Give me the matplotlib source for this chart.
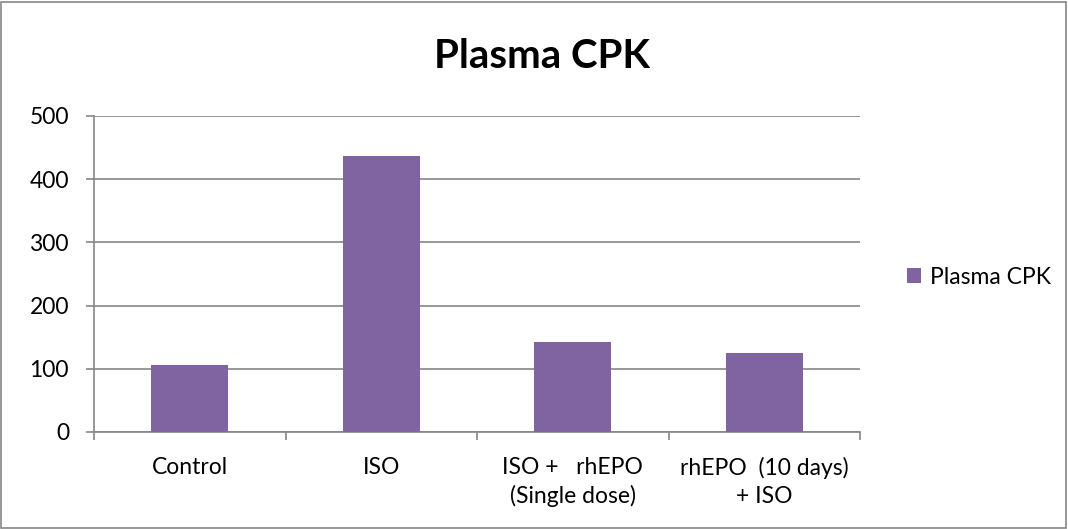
import matplotlib
matplotlib.use("Agg")
import matplotlib.pyplot as plt
from matplotlib.patches import Rectangle
import numpy as np

categories = ["Control", "ISO", "ISO +   rhEPO\n(Single dose)", "rhEPO  (10 days)\n+ ISO"]
cpk_values = [106, 436, 142, 125]
series_name = "Plasma CPK"
y_ticks = [0, 100, 200, 300, 400, 500]

plt.rcParams["font.family"] = ["Lato", "DejaVu Sans"]
bar_color = "#8064A2"
grid_color = "#868686"

fig = plt.figure(figsize=(10.68, 5.29), dpi=100)
ax = fig.add_axes([94 / 1068, 1 - 432 / 529, 766 / 1068, 316 / 529])

x = np.arange(len(categories))
ax.bar(x, cpk_values, width=0.4, color=bar_color, label=series_name, zorder=3)

ax.set_xlim(-0.5, len(categories) - 0.5)
ax.set_ylim(0, 500)
ax.set_yticks(y_ticks)
ax.set_yticklabels([str(v) for v in y_ticks], fontsize=16.5)
ax.yaxis.grid(True, color=grid_color, linewidth=1.2, zorder=0)

# category labels between boundary ticks
ax.set_xticks(np.arange(-0.5, len(categories), 1.0))
ax.set_xticklabels([])
ax.set_xticks(x, minor=True)
ax.set_xticklabels(categories, minor=True, fontsize=16.5, linespacing=1.4)
ax.tick_params(axis="x", which="minor", length=0, pad=18)
ax.tick_params(axis="x", which="major", length=6, color=grid_color, width=1.2)
ax.tick_params(axis="y", length=6, color=grid_color, width=1.2, pad=12)

for side in ["top", "right"]:
    ax.spines[side].set_visible(False)
for side in ["left", "bottom"]:
    ax.spines[side].set_color(grid_color)
    ax.spines[side].set_linewidth(1.2)

fig.text(542 / 1068, 1 - 56 / 529, "Plasma CPK", fontsize=29, fontweight="bold",
         ha="center", va="center")

ax.legend(loc="center left", bbox_to_anchor=(1.035, 0.49), frameon=False,
          fontsize=16.5, handlelength=0.6, handleheight=0.6, handletextpad=0.4)

fig.patches.append(Rectangle((1 / 1068, 1 / 529), 1 - 3 / 1068, 1 - 3 / 529,
                             transform=fig.transFigure, fill=False,
                             edgecolor=grid_color, linewidth=1.2))

fig.savefig("out.png", dpi=100)
